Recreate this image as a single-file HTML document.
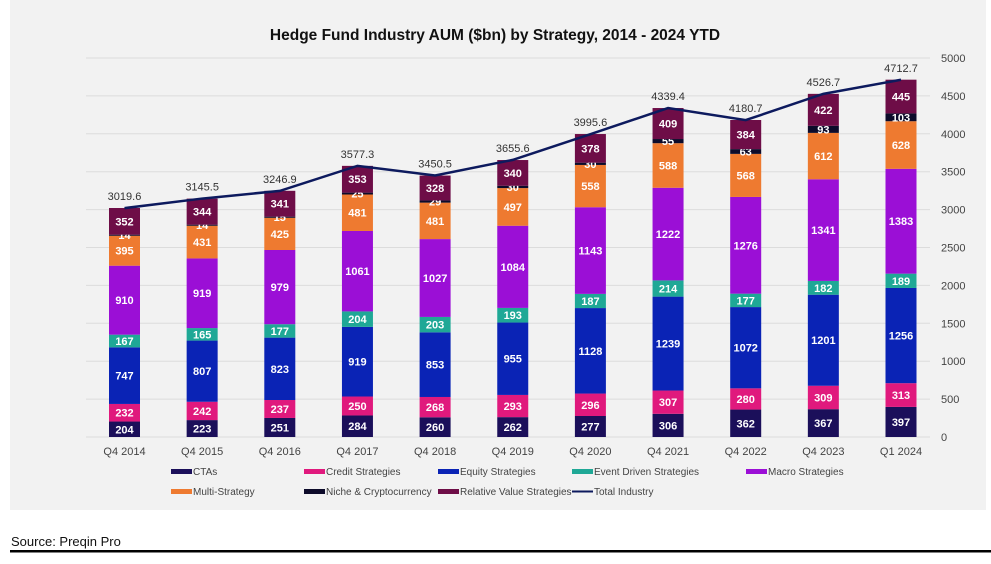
<!DOCTYPE html>
<html><head><meta charset="utf-8"><style>
body{margin:0;background:#fff;width:991px;height:559px;overflow:hidden;font-family:"Liberation Sans",sans-serif}
</style></head><body>
<svg id="s" width="991" height="559" xmlns="http://www.w3.org/2000/svg" font-family="Liberation Sans, sans-serif">
<rect x="10" y="0" width="976" height="510" fill="#f2f2f2"/>
<text x="495" y="40" text-anchor="middle" font-size="15.5" font-weight="bold" fill="#111">Hedge Fund Industry AUM ($bn) by Strategy, 2014 - 2024 YTD</text>
<g id="g"></g>
<text x="11" y="546" font-size="13" fill="#111">Source: Preqin Pro</text>
<rect x="10" y="550" width="981" height="2.5" fill="#000"/>
</svg>
<script>
var d=[[204,232,747,167,910,395,14,352,"3019.6","Q4 2014"],[223,242,807,165,919,431,14,344,"3145.5","Q4 2015"],[251,237,823,177,979,425,15,341,"3246.9","Q4 2016"],[284,250,919,204,1061,481,25,353,"3577.3","Q4 2017"],[260,268,853,203,1027,481,29,328,"3450.5","Q4 2018"],[262,293,955,193,1084,497,30,340,"3655.6","Q4 2019"],[277,296,1128,187,1143,558,30,378,"3995.6","Q4 2020"],[306,307,1239,214,1222,588,55,409,"4339.4","Q4 2021"],[362,280,1072,177,1276,568,63,384,"4180.7","Q4 2022"],[367,309,1201,182,1341,612,93,422,"4526.7","Q4 2023"],[397,313,1256,189,1383,628,103,445,"4712.7","Q1 2024"]];
var c=["#1b0f5a","#e0197d","#0a23b5","#1fa896","#9b0fd6","#ee7a30","#0d0b2a","#6e0d47"];
var names=["CTAs","Credit Strategies","Equity Strategies","Event Driven Strategies","Macro Strategies","Multi-Strategy","Niche & Cryptocurrency","Relative Value Strategies"];
var y0=437,k=379/5000,h='';
for(var v=0;v<=5000;v+=500){var y=y0-v*k;h+='<line x1="86" x2="930" y1="'+y+'" y2="'+y+'" stroke="#dcdcdc" stroke-width="1"/><text x="941" y="'+(y+4)+'" font-size="11" fill="#444">'+v+'</text>';}
var pts=[];
d.forEach(function(r,i){var cx=124.5+77.65*i,x=cx-15.5,acc=0;
for(var j=0;j<8;j++){var t=y0-(acc+r[j])*k,b=y0-acc*k;h+='<rect x="'+x+'" y="'+t+'" width="31" height="'+(b-t)+'" fill="'+c[j]+'"/>';
h+='<text x="'+cx+'" y="'+((t+b)/2+4)+'" text-anchor="middle" font-size="11" font-weight="bold" fill="#fff">'+r[j]+'</text>';acc+=r[j];}
var tot=parseFloat(r[8]);pts.push(cx+','+(y0-tot*k));
h+='<text x="'+cx+'" y="'+(y0-tot*k-8)+'" text-anchor="middle" font-size="11" fill="#333">'+r[8]+'</text>';
h+='<text x="'+cx+'" y="455" text-anchor="middle" font-size="11" fill="#444">'+r[9]+'</text>';});
h+='<polyline points="'+pts.join(' ')+'" fill="none" stroke="#0d1a5e" stroke-width="2.5"/>';
var lx=[171,304,438,572,746];
for(var i=0;i<9;i++){var row=i<5?0:1,col=i%5,x=lx[col],y=row?493:473;
if(i<8){h+='<rect x="'+x+'" y="'+(y-4)+'" width="21" height="5" fill="'+c[i]+'"/>';}else{h+='<line x1="'+x+'" x2="'+(x+21)+'" y1="'+(y-1.5)+'" y2="'+(y-1.5)+'" stroke="#0d1a5e" stroke-width="2"/>';}
h+='<text x="'+(x+22)+'" y="'+(y+2)+'" font-size="10" fill="#444">'+(i<8?names[i]:"Total Industry")+'</text>';}
document.getElementById('g').innerHTML=h;
</script>
</body></html>
